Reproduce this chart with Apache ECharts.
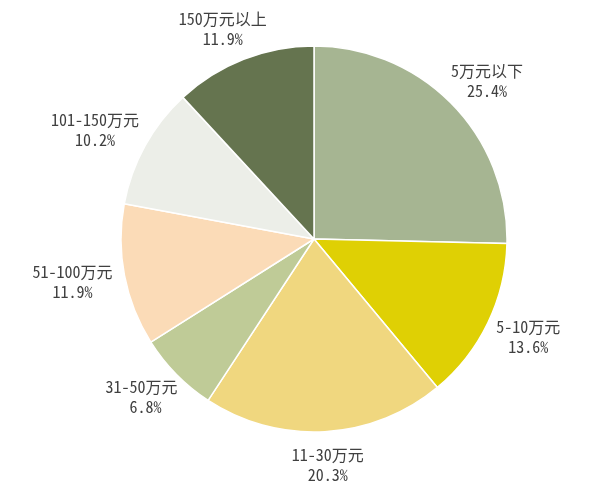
<!DOCTYPE html>
<html><head><meta charset="utf-8">
<script src="https://cdn.jsdelivr.net/npm/echarts@6/dist/echarts.min.js"></script>
<style>html,body{margin:0;padding:0;background:#fff}#c{width:597px;height:496px}</style>
</head><body><div id="c"></div>
<script>
const categories = ['5万元以下','5-10万元','11-30万元','31-50万元','51-100万元','101-150万元','150万元以上'];
const values = [25.4, 13.6, 20.3, 6.8, 11.9, 10.2, 11.9];
const pctLabels = ['25.4%','13.6%','20.3%',' 6.8%','11.9%','10.2%','11.9%'];
const colors = ['#a6b592','#dfd004','#f0d77f','#bfcb97','#fbdbb7','#eceee8','#65744f'];

const CX = 314, CY = 239, R = 193, LABEL_R = 206;
const font = '"Noto Sans Mono CJK SC","Noto Sans CJK SC","DejaVu Sans Mono",monospace';
const total = values.reduce((a,b)=>a+b,0);
const midAngles = [];
(function(){ let acc = 0; values.forEach(v=>{ const a0 = 90 - acc/total*360; const a1 = 90 - (acc+v)/total*360; midAngles.push((a0+a1)/2*Math.PI/180); acc += v; }); })();

const chart = echarts.init(document.getElementById('c'), null, {renderer:'canvas'});
const data = categories.map((c,i)=>({name:c, value:values[i], itemStyle:{color:colors[i]}}));
chart.setOption({
  animation:false,
  series:[
    {
      type:'pie', center:[CX,CY], radius:[0,R], startAngle:90, clockwise:true,
      data:data, labelLine:{show:false},
      itemStyle:{borderColor:'#fff', borderWidth:1.5},
      emphasis:{disabled:true}, silent:true,
      label:{
        show:true, position:'outside', color:'#404040', fontSize:16, lineHeight:20,
        fontFamily:font, align:'center', overflow:'none',
        formatter:function(p){ return p.name + '\n' + pctLabels[p.dataIndex]; }
      },
      labelLayout:function(p){
        const a = midAngles[p.dataIndex];
        const c = Math.cos(a), s = Math.sin(a);
        const w = p.labelRect.width, h = p.labelRect.height;
        return {
          x: CX + LABEL_R*c + c*w/2,
          y: CY - LABEL_R*s - s*h/2,
          align:'center', verticalAlign:'middle'
        };
      }
    }
  ]
});
</script></body></html>
